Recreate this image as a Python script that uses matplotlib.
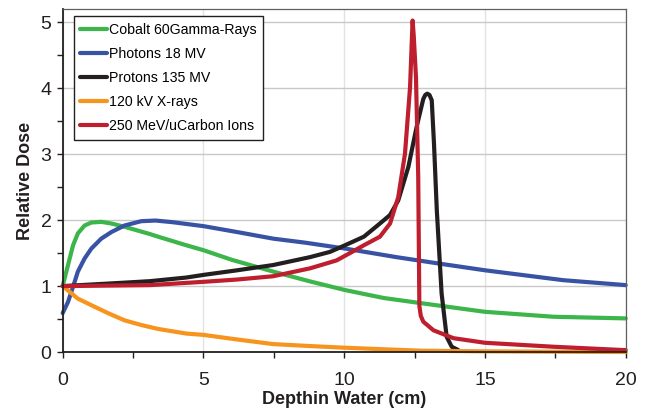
"""Relative depth dose curves for several radiation types."""

import matplotlib.pyplot as plt
from matplotlib.ticker import MultipleLocator

plt.rcParams["font.family"] = ["Liberation Sans", "DejaVu Sans"]

# Cobalt 60 gamma rays
cobalt_depth = [0, 0.19, 0.37, 0.54, 0.78, 1.02, 1.37, 1.73, 2.2, 3.1, 3.39, 4.39, 5.0, 6.0,
                7.48, 8.8, 10.03, 11.4, 12.75, 15.0, 17.43, 20]
cobalt_dose = [1.0, 1.32, 1.62, 1.80, 1.92, 1.965, 1.975, 1.95, 1.90, 1.79, 1.75, 1.62, 1.545,
               1.40, 1.22, 1.07, 0.94, 0.82, 0.74, 0.61, 0.535, 0.51]

# Photons 18 MV
photon_depth = [0, 0.19, 0.37, 0.54, 0.78, 1.02, 1.37, 1.73, 2.2, 2.79, 3.3, 3.9, 5.0, 6.2,
                7.48, 8.6, 10.03, 11.85, 13.4, 15.0, 17.78, 20]
photon_dose = [0.59, 0.76, 0.99, 1.22, 1.42, 1.57, 1.72, 1.82, 1.92, 1.985, 1.995, 1.97, 1.91,
               1.82, 1.72, 1.66, 1.57, 1.44, 1.34, 1.24, 1.09, 1.015]

# Protons 135 MV
proton_depth = [0, 2.1, 3.1, 4.39, 5.0, 6.2, 7.48, 8.79, 9.5, 10.03, 10.7, 11.27, 11.63, 11.92,
                12.28, 12.57, 12.81, 12.88, 12.95, 13.03, 13.11, 13.19, 13.29, 13.46, 13.64,
                13.82, 14.05]
proton_dose = [1.0, 1.05, 1.075, 1.13, 1.17, 1.24, 1.32, 1.44, 1.52, 1.62, 1.75, 1.95, 2.08,
               2.3, 2.81, 3.41, 3.84, 3.9, 3.92, 3.9, 3.82, 3.16, 2.15, 0.89, 0.23, 0.08, 0.03]

# 120 kV X-rays
xray_depth = [0, 0.54, 1.02, 1.61, 2.2, 2.79, 3.39, 4.39, 5.0, 6.2, 7.48, 8.8, 10.03, 11.5,
              12.75, 15, 17.5, 20]
xray_dose = [1.0, 0.81, 0.71, 0.59, 0.48, 0.41, 0.35, 0.28, 0.26, 0.19, 0.12, 0.09, 0.065,
             0.04, 0.02, 0.01, 0.005, 0.0]

# 250 MeV/u carbon ions
carbon_depth = [0, 3.1, 5.0, 6.2, 7.48, 8.79, 9.73, 10.2, 10.7, 11.27, 11.63, 11.92, 12.16,
                12.34, 12.4, 12.43, 12.47, 12.55, 12.63, 12.67, 12.72, 12.81, 13.17, 13.88,
                15.0, 17.43, 19.9, 20]
carbon_dose = [1.0, 1.015, 1.065, 1.1, 1.15, 1.27, 1.39, 1.5, 1.62, 1.75, 1.95, 2.35, 3.01,
               4.02, 4.7, 5.03, 4.8, 4.17, 2.66, 0.7, 0.55, 0.46, 0.33, 0.21, 0.14, 0.08,
               0.03, 0.03]

series = [
    ("Cobalt 60Gamma-Rays", cobalt_depth, cobalt_dose, "#3cb54a"),
    ("Photons 18 MV", photon_depth, photon_dose, "#3953a4"),
    ("Protons 135 MV", proton_depth, proton_dose, "#231f20"),
    ("120 kV X-rays", xray_depth, xray_dose, "#f7941d"),
    ("250 MeV/uCarbon Ions", carbon_depth, carbon_dose, "#be1e2d"),
]

fig = plt.figure(figsize=(6.46, 4.12), dpi=100)
ax = fig.add_axes([0.097, 0.1456, 0.8716, 0.8318])

for label, depth, dose, color in series:
    ax.plot(depth, dose, color=color, lw=3, label=label, clip_on=False,
            solid_joinstyle="round", solid_capstyle="round")

ax.set_xlim(0, 20)
ax.set_ylim(0, 5.2)
ax.xaxis.set_major_locator(MultipleLocator(5))
ax.xaxis.set_minor_locator(MultipleLocator(2.5))
ax.yaxis.set_major_locator(MultipleLocator(1))
ax.yaxis.set_minor_locator(MultipleLocator(0.5))
ax.grid(axis="y", which="major", color="#c8c8c8", lw=1)
ax.grid(axis="x", which="major", color="#e2e2e2", lw=1)
ax.set_axisbelow(True)

ax.tick_params(which="both", direction="out", length=4.5, width=1, color="#231f20",
               labelsize=14, labelcolor="#231f20")
ax.tick_params(axis="x", pad=10)
for side in ("left", "bottom"):
    ax.spines[side].set_color("#231f20")
    ax.spines[side].set_linewidth(1.3)
for side in ("top", "right"):
    ax.spines[side].set_color("#606060")
    ax.spines[side].set_linewidth(0.9)

ax.set_xlabel("Depthin Water (cm)", fontsize=13, fontweight="bold", color="#231f20",
              labelpad=1)
ax.set_ylabel("Relative Dose", fontsize=13, fontweight="bold", color="#231f20", labelpad=5)

leg = ax.legend(loc="upper left", bbox_to_anchor=(0.02, 0.98), fontsize=10.2,
                frameon=True, fancybox=False, framealpha=1, edgecolor="#231f20",
                handlelength=1.9, handletextpad=0.15, labelspacing=0.72, borderpad=0.45,
                borderaxespad=0)
leg.get_frame().set_linewidth(1)

fig.savefig("out.png", dpi=100)
